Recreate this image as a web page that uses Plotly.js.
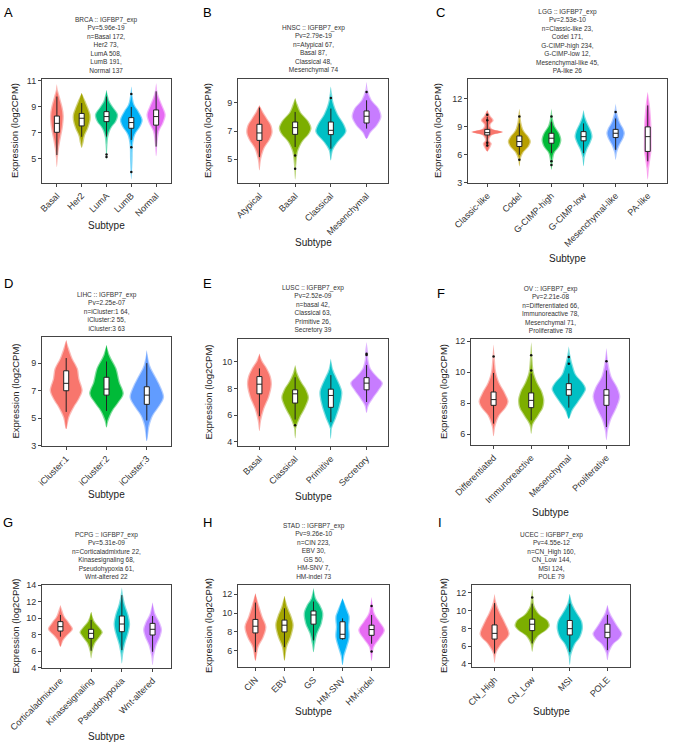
<!DOCTYPE html>
<html><head><meta charset="utf-8">
<script src="https://cdn.plot.ly/plotly-3.0.1.min.js"></script>
<style>body{margin:0;background:#fff}#chart{width:683px;height:743px}</style>
</head><body><div id="chart"></div>
<script>
// ---------------- DATA ----------------
// A: BRCA
const A_cats = ["Basal","Her2","LumA","LumB","Normal"];
const A_vy = [[4.36,5.1,5.85,6.6,7.4,8.3,8.9,9.7,10.3,10.77],[5.85,6.2,6.77,7.38,8.0,8.4,8.92,9.44,10.08],[4.95,6.1,6.77,7.38,7.9,8.4,8.92,9.44,10.33],[3.41,4.82,6.1,6.87,7.51,8.02,8.67,9.18,10.0,10.59],[5.2,6.1,7.13,7.77,8.4,9.05,9.7,10.3,10.85]];
const A_vw = [[0,0.04,0.09,0.16,0.24,0.28,0.24,0.13,0.04,0],[0,0.07,0.13,0.27,0.36,0.36,0.27,0.16,0],[0,0.04,0.08,0.2,0.4,0.47,0.3,0.13,0],[0,0.05,0.07,0.16,0.38,0.46,0.3,0.13,0.04,0],[0,0.05,0.13,0.3,0.39,0.27,0.13,0.04,0]];
const A_q1 = [7.05,7.54,7.87,7.36,7.6], A_med = [7.74,8.13,8.26,7.8,8.26], A_q3 = [8.3,8.5,8.64,8.18,8.77], A_lo = [5.3,6.7,6.72,6.46,5.95], A_hi = [9.8,9.3,9.8,9.0,10.2];
const A_outCat = ["LumA","LumA","LumB","LumB","LumB"], A_outY = [5.35,5.15,10.0,5.9,4.0];
const A_title = ["BRCA :: IGFBP7_exp","Pv=5.96e-19","n=Basal 172,","Her2 73,","LumA 508,","LumB 191,","Normal 137"];
// B: HNSC
const B_cats = ["Atypical","Basal","Classical","Mesenchymal"];
const B_vy = [[4.19,5.0,5.8,6.4,6.9,7.4,7.9,8.4,8.83],[3.52,4.5,5.5,6.2,6.8,7.2,7.7,8.3,8.9,9.36],[4.9,5.6,6.2,6.7,7.0,7.5,8.2,9.0,9.7,10.19],[6.45,6.9,7.4,8.0,8.6,9.2,9.9,10.5]];
const B_vw = [[0,0.05,0.15,0.3,0.37,0.34,0.22,0.1,0],[0,0.03,0.08,0.2,0.4,0.46,0.38,0.17,0.07,0],[0,0.06,0.2,0.38,0.44,0.37,0.2,0.08,0.03,0],[0,0.12,0.3,0.42,0.35,0.15,0.04,0]];
const B_q1 = [6.33,6.76,6.74,7.57], B_med = [6.86,7.24,7.05,8.05], B_q3 = [7.48,7.64,7.64,8.43], B_lo = [5.14,5.86,5.74,7.17], B_hi = [8.67,8.36,8.6,9.19];
const B_outCat = ["Basal","Basal","Classical","Mesenchymal"], B_outY = [5.26,4.3,9.36,9.79];
const B_title = ["HNSC :: IGFBP7_exp","Pv=2.79e-19","n=Atypical 67,","Basal 87,","Classical 48,","Mesenchymal 74"];
// C: LGG
const C_cats = ["Classic-like","Codel","G-CIMP-high","G-CIMP-low","Mesenchymal-like","PA-like"];
const C_vy = [[6.35,6.8,7.2,7.6,8.1,8.45,8.8,9.2,9.7,10.2,10.8],[4.76,5.5,6.3,6.9,7.4,7.9,8.6,9.5,10.3,10.97],[4.4,5.2,6.2,6.9,7.6,8.3,9.0,9.8,10.97],[4.76,5.7,6.6,7.3,7.9,8.5,9.3,10.0,10.8],[5.47,6.3,7.1,7.8,8.3,8.8,9.5,10.5,11.5],[3.34,4.5,5.7,6.5,7.5,8.5,9.5,10.5,11.5,12.75]];
const C_vw = [[0,0.1,0.14,0.07,0.15,0.5,0.15,0.1,0.2,0.1,0],[0,0.04,0.14,0.3,0.36,0.3,0.14,0.06,0.03,0],[0,0.04,0.1,0.25,0.31,0.25,0.12,0.05,0],[0,0.04,0.12,0.22,0.28,0.25,0.14,0.06,0],[0,0.05,0.14,0.25,0.29,0.25,0.14,0.05,0],[0,0.04,0.09,0.12,0.12,0.12,0.11,0.09,0.06,0]];
const C_q1 = [8.13,6.89,7.24,7.5,7.85,6.36], C_med = [8.38,7.42,7.78,7.95,8.31,7.95], C_q3 = [8.73,8.02,8.31,8.49,8.73,9.0], C_lo = [6.89,6.0,6.18,6.18,6.53,5.3], C_hi = [10.08,9.37,9.55,9.37,9.9,11.3];
const C_outCat = ["Classic-like","Classic-like","Classic-like","Classic-like","Codel","Codel","G-CIMP-high","G-CIMP-high","G-CIMP-high","Mesenchymal-like"], C_outY = [10.3,9.7,7.3,7.0,10.1,5.47,10.1,5.3,4.9,10.6];
const C_title = ["LGG :: IGFBP7_exp","Pv=2.53e-10","n=Classic-like 23,","Codel 171,","G-CIMP-high 234,","G-CIMP-low 12,","Mesenchymal-like 45,","PA-like 26"];
// D: LIHC
const D_cats = ["iCluster:1","iCluster:2","iCluster:3"];
const D_vy = [[4.2,5.06,5.79,6.4,7.0,7.87,8.6,9.34,10.08,10.69],[4.32,4.81,5.54,6.15,6.77,7.63,8.6,9.59,10.32],[3.34,4.44,5.18,5.91,6.52,7.14,7.87,8.85,9.96]];
const D_vw = [[0,0.08,0.2,0.33,0.41,0.33,0.29,0.16,0.07,0],[0,0.05,0.16,0.31,0.43,0.33,0.25,0.08,0],[0,0.07,0.16,0.33,0.43,0.37,0.25,0.08,0]];
const D_q1 = [6.99,6.67,6.0], D_med = [7.53,7.11,6.67], D_q3 = [8.44,7.97,7.28], D_lo = [5.45,5.52,4.83], D_hi = [9.37,9.12,9.0];
const D_outCat = [], D_outY = [];
const D_title = ["LIHC :: IGFBP7_exp","Pv=2.25e-07","n=iCluster:1 64,","iCluster:2 55,","iCluster:3 63"];
// E: LUSC
const E_cats = ["Basal","Classical","Primitive","Secretory"];
const E_vy = [[4.81,5.6,6.5,7.4,8.3,8.9,9.5,10.1,10.62],[4.25,5.0,5.8,6.5,7.3,7.9,8.5,9.2,9.75],[4.2,5.0,5.8,6.6,7.3,7.8,8.5,9.4,10.25],[6.17,6.7,7.3,7.9,8.4,8.9,9.5,10.2,10.8,11.48]];
const E_vw = [[0,0.05,0.14,0.28,0.35,0.32,0.22,0.08,0],[0,0.03,0.14,0.28,0.39,0.32,0.18,0.06,0],[0,0.03,0.15,0.25,0.31,0.32,0.22,0.07,0],[0,0.06,0.2,0.36,0.46,0.3,0.12,0.05,0.04,0]];
const E_q1 = [7.6,6.91,6.59,7.9], E_med = [8.32,7.6,7.48,8.4], E_q3 = [8.89,7.9,7.95,8.81], E_lo = [5.93,5.68,5.48,6.99], E_hi = [9.5,8.84,9.0,9.75];
const E_outCat = ["Classical","Secretory","Secretory"], E_outY = [5.26,10.6,10.5];
const E_title = ["LUSC :: IGFBP7_exp","Pv=2.52e-09","n=basal 42,","Classical 63,","Primitive 26,","Secretory 39"];
// F: OV
const F_cats = ["Differentiated","Immunoreactive","Mesenchymal","Proliferative"];
const F_vy = [[5.85,6.5,7.2,7.7,8.1,8.6,9.3,10.0,11.0,11.78],[6.02,6.6,7.2,7.7,8.2,8.7,9.3,10.0,11.0,11.94],[6.99,7.5,8.0,8.5,8.9,9.3,9.8,10.5,11.1,11.66],[5.6,6.3,7.0,7.7,8.4,9.0,9.7,10.5,11.57]];
const F_vw = [[0,0.05,0.16,0.33,0.4,0.32,0.16,0.07,0.03,0],[0,0.05,0.2,0.32,0.35,0.3,0.17,0.07,0.03,0],[0,0.1,0.24,0.38,0.46,0.38,0.2,0.1,0.04,0],[0,0.05,0.14,0.28,0.37,0.3,0.14,0.06,0]];
const F_q1 = [7.85,7.7,8.5,7.85], F_med = [8.22,8.17,8.86,8.5], F_q3 = [8.71,8.65,9.25,8.86], F_lo = [6.67,6.88,7.7,6.45], F_hi = [9.94,9.9,9.9,10.1];
const F_outCat = ["Differentiated","Immunoreactive","Immunoreactive","Mesenchymal","Mesenchymal","Proliferative"], F_outY = [11.0,11.08,10.1,10.97,10.54,10.7];
const F_title = ["OV :: IGFBP7_exp","Pv=2.21e-08","n=Differentiated 66,","Immunoreactive 78,","Mesenchymal 71,","Proliferative 78"];
// G: PCPG
const G_cats = ["Corticaladmixture","Kinasesignaling","Pseudohypoxia","Wnt-altered"];
const G_vy = [[6.55,7.3,8.0,8.7,9.4,10.2,11.0,11.6],[5.13,6.0,7.0,7.8,8.3,8.8,9.6,10.8],[4.53,5.8,7.0,8.2,9.3,10.4,11.5,12.6,13.76],[4.32,5.5,6.8,7.8,8.6,9.4,10.5,11.9]];
const G_vw = [[0,0.1,0.25,0.41,0.3,0.14,0.06,0],[0,0.05,0.14,0.3,0.38,0.3,0.12,0],[0,0.05,0.12,0.22,0.27,0.22,0.12,0.05,0],[0,0.05,0.14,0.26,0.31,0.25,0.1,0]];
const G_q1 = [8.45,7.56,8.37,7.97], G_med = [8.98,8.17,9.3,8.66], G_q3 = [9.59,8.66,10.27,9.38], G_lo = [7.77,6.06,6.14,5.94], G_hi = [10.4,9.8,12.8,10.27];
const G_outCat = [], G_outY = [];
const G_title = ["PCPG :: IGFBP7_exp","Pv=5.31e-09","n=Corticaladmixture 22,","Kinasesignaling 68,","Pseudohypoxia 61,","Wnt-altered 22"];
// H: STAD
const H_cats = ["CIN","EBV","GS","HM-SNV","HM-indel"];
const H_vy = [[4.96,6.39,7.46,8.54,9.6,10.68,12.1],[4.96,6.39,7.46,8.71,9.6,10.68,11.82],[5.86,6.75,7.82,8.9,9.96,10.86,11.57,12.64],[4.5,5.5,6.39,7.46,8.54,9.6,10.32,11.57],[4.96,6.39,7.28,8.18,9.07,9.96,11.68]];
const H_vw = [[0,0.11,0.29,0.38,0.25,0.14,0],[0,0.09,0.23,0.32,0.25,0.11,0],[0,0.06,0.14,0.29,0.34,0.23,0.09,0],[0,0.07,0.16,0.25,0.23,0.25,0.17,0],[0,0.09,0.29,0.46,0.29,0.11,0]];
const H_q1 = [7.89,8.0,8.82,7.29,7.64], H_med = [8.6,8.71,9.79,7.75,8.25], H_q3 = [9.32,9.25,10.21,9.07,8.71], H_lo = [5.86,6.39,7.1,7.18,6.75], H_hi = [11.1,10.5,11.21,9.43,9.79];
const H_outCat = ["HM-indel","HM-indel"], H_outY = [10.75,5.93];
const H_title = ["STAD :: IGFBP7_exp","Pv=9.26e-10","n=CIN 223,","EBV 30,","GS 50,","HM-SNV 7,","HM-indel 73"];
// I: UCEC
const I_cats = ["CN_High","CN_Low","MSI","POLE"];
const I_vy = [[4.12,5.2,6.3,7.0,7.4,8.0,8.8,9.8,10.9,11.9],[5.37,6.3,7.2,7.8,8.3,8.9,9.6,10.6,11.5,12.45],[3.86,5.0,6.2,7.0,8.0,8.8,9.6,10.8,11.9],[4.42,5.3,6.2,6.9,7.4,8.0,8.8,9.8,10.67]];
const I_vw = [[0,0.05,0.2,0.36,0.4,0.36,0.27,0.15,0.05,0],[0,0.05,0.18,0.38,0.47,0.42,0.2,0.06,0.03,0],[0,0.04,0.14,0.28,0.35,0.33,0.22,0.07,0],[0,0.05,0.16,0.34,0.4,0.32,0.2,0.07,0]];
const I_q1 = [6.81,7.76,7.27,6.96], I_med = [7.45,8.48,7.98,7.57], I_q3 = [8.4,9.05,8.9,8.48], I_lo = [5.18,6.32,5.37,5.56], I_hi = [10.86,10.8,10.8,9.54];
const I_outCat = ["CN_Low"], I_outY = [11.5];
const I_title = ["UCEC :: IGFBP7_exp","Pv=4.55e-12","n=CN_High 160,","CN_Low 144,","MSI 124,","POLE 79"];

const yTitle = "Expression (log2CPM)";
const xTitle = "Subtype";

// ---------------- LAYOUT / STYLE ----------------
const W = 683, H = 743;
const FONT = "Liberation Sans, Arial, Helvetica, sans-serif";
const PAL = {
  3: ["#F8766D","#00BA38","#619CFF"],
  4: ["#F8766D","#7CAE00","#00BFC4","#C77CFF"],
  5: ["#F8766D","#A3A500","#00BF7D","#00B0F6","#E76BF3"],
  6: ["#F8766D","#B79F00","#00BA38","#00BFC4","#619CFF","#F564E3"]
};
const panels = [
  {L:"A", cats:A_cats, vy:A_vy, vw:A_vw, q1:A_q1, med:A_med, q3:A_q3, lo:A_lo, hi:A_hi, oc:A_outCat, oy:A_outY, title:A_title, box:[42,171,79,183], yr:[3.15,11.15], yt:[5,7,9,11], lab:[8,13], ytx:15, xty:225},
  {L:"B", cats:B_cats, vy:B_vy, vw:B_vw, q1:B_q1, med:B_med, q3:B_q3, lo:B_lo, hi:B_hi, oc:B_outCat, oy:B_outY, title:B_title, box:[238,388,79,183], yr:[3.29,10.71], yt:[5,7,9], lab:[207,13], ytx:208, xty:242},
  {L:"C", cats:C_cats, vy:C_vy, vw:C_vw, q1:C_q1, med:C_med, q3:C_q3, lo:C_lo, hi:C_hi, oc:C_outCat, oy:C_outY, title:C_title, box:[468,667,79,183], yr:[2.97,14.14], yt:[3,6,9,12], lab:[440,13], ytx:438, xty:258},
  {L:"D", cats:D_cats, vy:D_vy, vw:D_vw, q1:D_q1, med:D_med, q3:D_q3, lo:D_lo, hi:D_hi, oc:D_outCat, oy:D_outY, title:D_title, box:[42,171,337,446], yr:[2.97,10.9], yt:[3,5,7,9], lab:[8,283], ytx:15, xty:495},
  {L:"E", cats:E_cats, vy:E_vy, vw:E_vw, q1:E_q1, med:E_med, q3:E_q3, lo:E_lo, hi:E_hi, oc:E_outCat, oy:E_outY, title:E_title, box:[238,388,339,446], yr:[3.7,11.7], yt:[4,6,8,10], lab:[207,283], ytx:208, xty:496},
  {L:"F", cats:F_cats, vy:F_vy, vw:F_vw, q1:F_q1, med:F_med, q3:F_q3, lo:F_lo, hi:F_hi, oc:F_outCat, oy:F_outY, title:F_title, box:[471,629,339,445], yr:[5.29,12.13], yt:[6,8,10,12], lab:[441,293], ytx:443, xty:512},
  {L:"G", cats:G_cats, vy:G_vy, vw:G_vw, q1:G_q1, med:G_med, q3:G_q3, lo:G_lo, hi:G_hi, oc:G_outCat, oy:G_outY, title:G_title, box:[42,171,585,668], yr:[3.97,14.03], yt:[4,6,8,10,12,14], lab:[8,522], ytx:15, xty:736},
  {L:"H", cats:H_cats, vy:H_vy, vw:H_vw, q1:H_q1, med:H_med, q3:H_q3, lo:H_lo, hi:H_hi, oc:H_outCat, oy:H_outY, title:H_title, box:[238,389,585,667], yr:[4.29,12.96], yt:[6,8,10,12], lab:[207,522], ytx:208, xty:711},
  {L:"I", cats:I_cats, vy:I_vy, vw:I_vw, q1:I_q1, med:I_med, q3:I_q3, lo:I_lo, hi:I_hi, oc:I_outCat, oy:I_outY, title:I_title, box:[472,630,585,667], yr:[3.66,12.9], yt:[4,6,8,10,12], lab:[440,522], ytx:443, xty:711}
];

const px = v => v / W;
const py = v => 1 - v / H;

const traces = [];
const layout = {
  width: W, height: H, margin: {l:0, r:0, t:0, b:0},
  paper_bgcolor: "#fff", plot_bgcolor: "#fff",
  showlegend: false, font: {family: FONT, color: "#222"},
  annotations: []
};

function violinPath(center, ys, ws, inset) {
  const xs = [], yy = [];
  for (let j = 0; j < ys.length; j++) { xs.push(center + Math.max(ws[j] - inset, 0)); yy.push(ys[j]); }
  for (let j = ys.length - 1; j >= 0; j--) { xs.push(center - Math.max(ws[j] - inset, 0)); yy.push(ys[j]); }
  return {xs, yy};
}

panels.forEach((p, k) => {
  const sfx = k === 0 ? "" : String(k + 1);
  const osfx = String(k + 11);           // overlay axes for boxes (drawn on top of violins)
  const xa = "x" + sfx, ya = "y" + sfx;
  const xo = "x" + osfx, yo = "y" + osfx;
  const n = p.cats.length;
  const cols = PAL[n];
  const xr = [0.4, n + 0.6];
  const [x0, x1, y0, y1] = p.box;
  const pxPerUnit = (x1 - x0) / (xr[1] - xr[0]);
  const pos = p.cats.map((c, i) => i + 1);
  const inset = 1.3 / pxPerUnit;

  // violins: light outer layer + solid inner layer
  p.cats.forEach((c, i) => {
    const outer = violinPath(pos[i], p.vy[i], p.vw[i], 0);
    const inner = violinPath(pos[i], p.vy[i], p.vw[i], inset);
    [[outer, 0.5], [inner, 1]].forEach(([path, op]) => {
      traces.push({
        type: "scatter", mode: "lines", x: path.xs, y: path.yy, xaxis: xa, yaxis: ya,
        fill: "toself", fillcolor: cols[i], opacity: op,
        line: {width: 0, color: cols[i], shape: "spline", smoothing: 0.9},
        hoverinfo: "skip"
      });
    });
  });
  // boxes (precomputed stats) on overlay axes
  traces.push({
    type: "box", x: pos, q1: p.q1, median: p.med, q3: p.q3,
    lowerfence: p.lo, upperfence: p.hi, xaxis: xo, yaxis: yo,
    width: 5 / pxPerUnit, whiskerwidth: 0, boxpoints: false,
    fillcolor: "#ffffff", line: {color: "#222", width: 1}, hoverinfo: "skip"
  });
  // outliers
  traces.push({
    type: "scatter", mode: "markers", xaxis: xo, yaxis: yo,
    x: p.oc.map(c => p.cats.indexOf(c) + 1), y: p.oy,
    marker: {size: 2.5, color: "#111"}, hoverinfo: "skip"
  });

  const axCommon = {
    showline: true, mirror: true, linecolor: "#444", linewidth: 1,
    ticks: "outside", ticklen: 3, tickcolor: "#444", tickwidth: 1,
    showgrid: false, zeroline: false, fixedrange: true,
    tickfont: {family: FONT, size: 9, color: "#333"}
  };
  layout["xaxis" + sfx] = Object.assign({}, axCommon, {
    domain: [px(x0), px(x1)], anchor: ya, range: xr,
    tickmode: "array", tickvals: pos, ticktext: p.cats, tickangle: -45
  });
  layout["yaxis" + sfx] = Object.assign({}, axCommon, {
    domain: [py(y1), py(y0)], anchor: xa, range: p.yr,
    tickmode: "array", tickvals: p.yt, ticktext: p.yt.map(String)
  });
  layout["xaxis" + osfx] = {overlaying: xa, anchor: yo, range: xr, visible: false,
    showgrid: false, zeroline: false, fixedrange: true, domain: [px(x0), px(x1)]};
  layout["yaxis" + osfx] = {overlaying: ya, anchor: xo, range: p.yr, visible: false,
    showgrid: false, zeroline: false, fixedrange: true, domain: [py(y1), py(y0)]};

  const cx = (x0 + x1) / 2, cy = (y0 + y1) / 2;
  layout.annotations.push(
    {text: p.L, x: px(p.lab[0]), y: py(p.lab[1]), xref: "paper", yref: "paper",
     xanchor: "center", yanchor: "middle", showarrow: false,
     font: {family: FONT, size: 13, color: "#000"}},
    {text: p.title.join("<br>"), x: px(cx), y: py(y0 - 3), xref: "paper", yref: "paper",
     xanchor: "center", yanchor: "bottom", showarrow: false,
     font: {family: FONT, size: 6.5, color: "#333"}},
    {text: yTitle, x: px(p.ytx), y: py(cy), xref: "paper", yref: "paper",
     xanchor: "center", yanchor: "middle", textangle: -90, showarrow: false,
     font: {family: FONT, size: 9.5, color: "#222"}},
    {text: xTitle, x: px(cx), y: py(p.xty), xref: "paper", yref: "paper",
     xanchor: "center", yanchor: "middle", showarrow: false,
     font: {family: FONT, size: 10, color: "#222"}}
  );
});

Plotly.newPlot("chart", traces, layout, {staticPlot: true, displayModeBar: false});
</script>
</body></html>
